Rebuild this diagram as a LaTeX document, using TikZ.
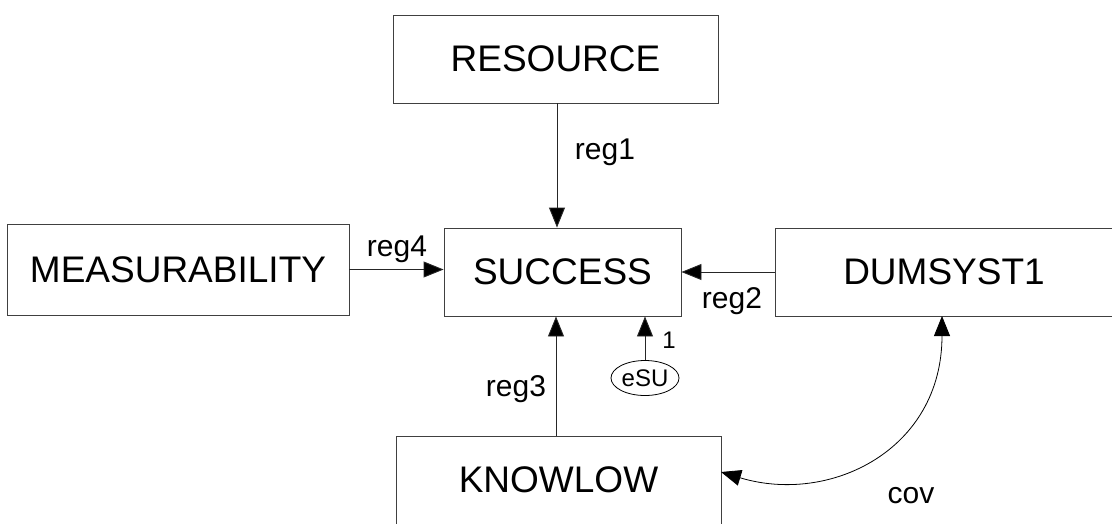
\documentclass[tikz,border=0pt]{standalone}
\usepackage{fontspec}
\setmainfont{Liberation Sans}
\usetikzlibrary{arrows.meta,shapes.geometric}
\begin{document}
\begin{tikzpicture}[x=1pt,y=-1pt,
  varbox/.style={draw=black!75,line width=0.9pt,rectangle,inner sep=0pt,
    font=\fontsize{37}{40}\selectfont},
  errvar/.style={draw=black,line width=0.8pt,ellipse,inner sep=0pt,
    minimum width=68pt,minimum height=35pt,font=\fontsize{24}{26}\selectfont},
  path/.style={draw=black!85,line width=0.9pt,
    -{Triangle[length=20pt,width=16pt,fill=black]}},
  covpath/.style={draw=black,line width=0.8pt,
    {Triangle[length=20pt,width=16pt]}-{Triangle[length=20pt,width=16pt]}},
  lbl/.style={inner sep=0pt,font=\fontsize{30}{32}\selectfont},
  smalllbl/.style={inner sep=0pt,font=\fontsize{24}{26}\selectfont}]
  \useasboundingbox (0,0) rectangle (1112,523);
  \clip (0,0) rectangle (1112,523);

  % observed variables
  \node[varbox,minimum width=325pt,minimum height=88pt] (res) at (555.5,59) {RESOURCE};
  \node[varbox,minimum width=237pt,minimum height=88pt] (suc) at (562.5,272) {SUCCESS};
  \node[varbox,minimum width=342pt,minimum height=91pt] (mea) at (178,269.5) {MEASURABILITY};
  \node[varbox,minimum width=338pt,minimum height=88pt] (dum) at (944,272) {DUMSYST1};
  \node[varbox,minimum width=325pt,minimum height=88pt] (kno) at (558.5,480) {KNOWLOW};

  % error term
  \node[errvar] (esu) at (645,378) {eSU};

  % regression paths
  \draw[path] (res.south) ++(1.5,0) coordinate (r1) -- (r1 |- suc.north);
  \draw[path] (dum.west) -- (suc.east);
  \draw[path] (mea.east) -- (mea.east -| suc.west);
  \draw[path] (kno.north) ++(-2.5,0) coordinate (r3) -- (r3 |- suc.south);
  \draw[path] (esu.north) -- (esu.north |- suc.south);

  % covariance
  \coordinate (c1) at (942,316);
  \coordinate (c2) at (721,472);
  \draw[covpath] (c1) .. controls (942,450) and (830,505) .. (c2);

  % path labels
  \node[lbl] (l1) at (605,152) {reg1};
  \node[lbl] (l2) at (732,301) {reg2};
  \node[lbl] (l3) at (516,389) {reg3};
  \node[lbl] (l4) at (397,249) {reg4};
  \node[lbl] (lc) at (911,496) {cov};
  \node[smalllbl] (le) at (669,340) {1};
\end{tikzpicture}
\end{document}
